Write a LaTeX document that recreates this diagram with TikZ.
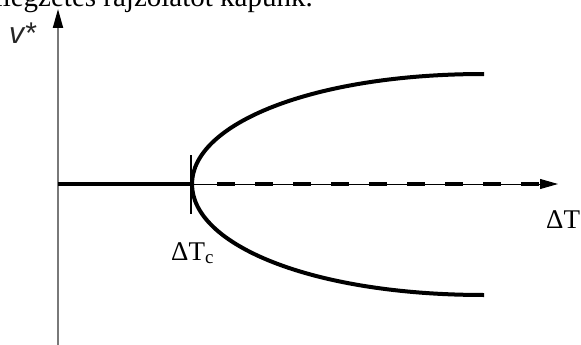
\documentclass[tikz,border=0pt]{standalone}
\usepackage{fontspec}
\setmainfont{Liberation Serif}
\newfontfamily\labsans{Liberation Sans}
\usetikzlibrary{arrows.meta}
\tikzset{
  thickcurve/.style={line width=4pt, line cap=butt},
  axisline/.style={line width=1pt, black},
  lbl/.style={inner sep=0pt, font=\fontsize{27}{27}\selectfont},
}
\begin{document}
\begin{tikzpicture}[x=1pt,y=-1pt]
\useasboundingbox (0,0) rectangle (581,345);
\begin{scope}
\clip (0,0) rectangle (581,345);
\node[anchor=base east, inner sep=0pt, font=\fontsize{29}{29}\selectfont] (top) at (313,7) {jellegzetes rajzolatot kapunk.};
\end{scope}
% coordinates
\coordinate (ybot) at (58,345);
\coordinate (ytop) at (58,9);
\coordinate (xl) at (58,184);
\coordinate (xr) at (558,184);
\coordinate (crit) at (192,184);
\coordinate (dstart) at (217,184);
\coordinate (dend) at (539,184);
\coordinate (tickt) at (191,155);
\coordinate (tickb) at (191,214);
\coordinate (up) at (484,74);
\coordinate (dn) at (484,295);
% vertical axis
\draw[line width=2pt, gray!95!black, -{Triangle[length=19pt,width=10pt,fill=black,color=black]}] (ybot) -- (ytop);
% horizontal axis
\draw[axisline, -{Triangle[length=18pt,width=10pt]}] (xl) -- (xr);
\draw[thickcurve] (xl) -- (crit);
\draw[thickcurve, dash pattern=on 18pt off 20pt] (dstart) -- (dend);
% tick
\draw[line width=1.2pt] (tickt) -- (tickb);
% branches
\draw[thickcurve] (crit) .. controls (192,124) and (312,74) .. (up);
\draw[thickcurve] (crit) .. controls (192,245) and (312,295) .. (dn);
% labels
\node[anchor=south west, inner sep=0pt, font=\labsans\itshape\fontsize{30}{30}\selectfont, text=black!85] (vlab) at (9,44) {v*};
\node[lbl, anchor=base west] (dtc) at (171,260) {ΔT\textsubscript{c}};
\node[lbl, anchor=base west] (dt) at (546,228) {ΔT};
\end{tikzpicture}
\end{document}
